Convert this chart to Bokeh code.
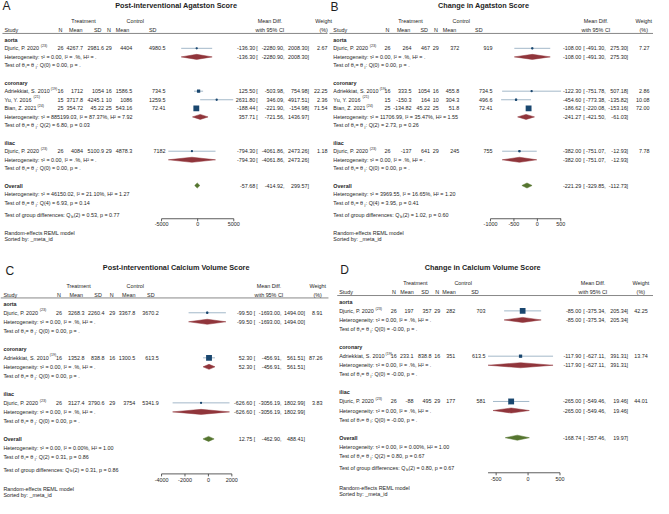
import math
from collections import defaultdict
from bokeh.plotting import figure
from bokeh.models import Range1d, ColumnDataSource
from bokeh.core.properties import value
from bokeh.embed import file_html
from bokeh.resources import INLINE

# ======================= DATA =======================
# ---- Panel A: Post-interventional Agatston Score ----
A_title = "Post-interventional Agatston Score"
A_groups = ["aorta", "coronary", "iliac"]
A_study_group = [0, 1, 1, 1, 2]
A_study = ["Djuric, P. 2020", "Adriekkiat, S. 2010", "Yu, Y. 2016", "Bian, Z. 2021", "Djuric, P. 2020"]
A_ref = ["(23)", "(19)", "(21)", "(24)", "(23)"]
A_n_t = [26, 16, 15, 25, 26]
A_mean_t = [4267.7, 1712, 3717.8, 354.72, 4084]
A_sd_t = [2981.6, 1054, 4245.1, 45.22, 5100.9]
A_n_c = [29, 16, 10, 25, 29]
A_mean_c = [4404, 1586.5, 1086, 543.16, 4878.3]
A_sd_c = [4980.5, 734.5, 1259.5, 72.41, 7182]
A_md = [-136.30, 125.50, 2631.80, -188.44, -794.30]
A_lo = [-2280.90, -503.98, 346.09, -221.90, -4061.86]
A_hi = [2008.30, 754.98, 4917.51, -154.98, 2473.26]
A_wt = [2.67, 22.25, 2.36, 71.54, 1.18]
A_grp_md = [-136.30, 357.71, -794.30]
A_grp_lo = [-2280.90, -721.56, -4061.86]
A_grp_hi = [2008.30, 1436.97, 2473.26]
A_grp_tau2 = ["0.00", "885199.03", "0.00"]
A_grp_I2 = [".%", "87.37%", ".%"]
A_grp_H2 = [".", "7.92", "."]
A_grp_Qdf = [0, 2, 0]
A_grp_Q = ["0.00", "6.80", "0.00"]
A_grp_p = [".", "0.03", "."]
A_all = [-57.68, -414.92, 299.57]
A_all_het = ["46150.02", "21.10%", "1.27"]
A_all_test = [4, "6.93", "0.14"]
A_gdiff = [2, "0.53", "0.77"]
A_ticks = [-5000, 0, 5000]

# ---- Panel B: Change in Agatston Score ----
B_title = "Change in Agatston Score"
B_groups = ["aorta", "coronary", "iliac"]
B_study_group = [0, 1, 1, 1, 2]
B_study = ["Djuric, P. 2020", "Adriekkiat, S. 2010", "Yu, Y. 2016", "Bian, Z. 2021", "Djuric, P. 2020"]
B_ref = ["(23)", "(19)", "(21)", "(24)", "(23)"]
B_n_t = [26, 16, 15, 25, 26]
B_mean_t = [264, 333.5, -150.3, -134.82, -137]
B_sd_t = [467, 1054, 164, 45.22, 641]
B_n_c = [29, 16, 10, 25, 29]
B_mean_c = [372, 455.8, 304.3, 51.8, 245]
B_sd_c = [919, 734.5, 496.6, 72.41, 755]
B_md = [-108.00, -122.30, -454.60, -186.62, -382.00]
B_lo = [-491.30, -751.78, -773.38, -220.08, -751.07]
B_hi = [275.30, 507.18, -135.82, -153.16, -12.93]
B_wt = [7.27, 2.86, 10.08, 72.00, 7.78]
B_grp_md = [-108.00, -241.27, -382.00]
B_grp_lo = [-491.30, -421.50, -751.07]
B_grp_hi = [275.30, -61.03, -12.93]
B_grp_tau2 = ["0.00", "11706.99", "0.00"]
B_grp_I2 = [".%", "35.47%", ".%"]
B_grp_H2 = [".", "1.55", "."]
B_grp_Qdf = [0, 2, 0]
B_grp_Q = ["0.00", "2.73", "0.00"]
B_grp_p = [".", "0.26", "."]
B_all = [-221.29, -329.85, -112.73]
B_all_het = ["3969.55", "16.65%", "1.20"]
B_all_test = [4, "3.95", "0.41"]
B_gdiff = [2, "1.02", "0.60"]
B_ticks = [-1000, -500, 0, 500]

# ---- Panel C: Post-interventional Calcium Volume Score ----
C_title = "Post-interventional Calcium Volume Score"
C_groups = ["aorta", "coronary", "iliac"]
C_study_group = [0, 1, 2]
C_study = ["Djuric, P. 2020", "Adriekkiat, S. 2010", "Djuric, P. 2020"]
C_ref = ["(23)", "(19)", "(23)"]
C_n_t = [26, 16, 26]
C_mean_t = [3268.3, 1352.8, 3127.4]
C_sd_t = [2260.4, 838.8, 3790.6]
C_n_c = [29, 16, 29]
C_mean_c = [3367.8, 1300.5, 3754]
C_sd_c = [3670.2, 613.5, 5341.9]
C_md = [-99.50, 52.30, -626.60]
C_lo = [-1693.00, -456.91, -3056.19]
C_hi = [1494.00, 561.51, 1802.99]
C_wt = [8.91, 87.26, 3.83]
C_grp_md = [-99.50, 52.30, -626.60]
C_grp_lo = [-1693.00, -456.91, -3056.19]
C_grp_hi = [1494.00, 561.51, 1802.99]
C_grp_tau2 = ["0.00", "0.00", "0.00"]
C_grp_I2 = [".%", ".%", ".%"]
C_grp_H2 = [".", ".", "."]
C_grp_Qdf = [0, 0, 0]
C_grp_Q = ["0.00", "0.00", "0.00"]
C_grp_p = [".", ".", "."]
C_all = [12.75, -462.90, 488.41]
C_all_het = ["0.00", "0.00%", "1.00"]
C_all_test = [2, "0.31", "0.86"]
C_gdiff = [2, "0.31", "0.86"]
C_ticks = [-4000, -2000, 0, 2000]

# ---- Panel D: Change in Calcium Volume Score ----
D_title = "Change in Calcium Volume Score"
D_groups = ["aorta", "coronary", "iliac"]
D_study_group = [0, 1, 2]
D_study = ["Djuric, P. 2020", "Adriekkiat, S. 2010", "Djuric, P. 2020"]
D_ref = ["(23)", "(19)", "(23)"]
D_n_t = [26, 16, 26]
D_mean_t = [197, 233.1, -88]
D_sd_t = [357, 838.8, 495]
D_n_c = [29, 16, 29]
D_mean_c = [282, 351, 177]
D_sd_c = [703, 613.5, 581]
D_md = [-85.00, -117.90, -265.00]
D_lo = [-375.34, -627.11, -549.46]
D_hi = [205.34, 391.31, 19.46]
D_wt = [42.25, 13.74, 44.01]
D_grp_md = [-85.00, -117.90, -265.00]
D_grp_lo = [-375.34, -627.11, -549.46]
D_grp_hi = [205.34, 391.31, 19.46]
D_grp_tau2 = ["0.00", "0.00", "0.00"]
D_grp_I2 = [".%", ".%", ".%"]
D_grp_H2 = [".", ".", "."]
D_grp_Qdf = [0, 0, 0]
D_grp_Q = ["-0.00", "-0.00", "-0.00"]
D_grp_p = [".", ".", "."]
D_all = [-168.74, -357.46, 19.97]
D_all_het = ["0.00", "0.00%", "1.00"]
D_all_test = [2, "0.80", "0.67"]
D_gdiff = [2, "0.80", "0.67"]
D_ticks = [-500, 0, 500]

FOOT1 = "Random-effects REML model"
FOOT2 = "Sorted by: _meta_id"

# ======================= STYLE / LAYOUT =======================
W, H = 653, 498
RW, RH = 669, 514
SX = W / RW
FONT = "Liberation Sans"
F_BODY = 5.4
F_TITLE = 7.3
F_LET = 12
F_SUP = 3.6
F_SUB = 3.9
TXT = "#1e1e1e"
NAVY = "#1a476f"
CI_COL = "#a3b8c9"
MAROON = "#90353b"
GREEN = "#55752f"
AXC = "#333333"

AW = {' ': 278, '!': 278, '%': 889, '(': 333, ')': 333, ',': 278, '-': 333, '.': 278, ':': 278,
      '=': 584, '_': 556, '[': 278, ']': 278, 'θ': 556, 'τ': 440, '²': 333}
for c in "0123456789":
    AW[c] = 556
AW.update(dict(A=667, B=667, C=722, D=722, E=667, F=611, G=778, H=722, I=278, J=500, K=667, L=556,
               M=833, N=722, O=778, P=667, Q=778, R=722, S=667, T=611, U=722, V=667, W=944, X=667,
               Y=667, Z=611))
AW.update(dict(a=556, b=556, c=500, d=556, e=556, f=278, g=556, h=556, i=222, j=222, k=500, l=222,
               m=833, n=556, o=556, p=556, q=556, r=333, s=500, t=278, u=556, v=500, w=722, x=500,
               y=500, z=500))


def tw(s, fs):
    return sum(AW.get(c, 556) for c in s) / 1000.0 * fs / SX


OFF_TOP = dict(gd=12.4, ax=16.6, lab=22.4, f1=31.8, f2=37.2)
OFF_BOT = dict(gd=13.0, ax=17.5, lab=23.5, f1=33.5, f2=39.0)

PANELS = {
    "A": dict(letter=(2, 5.5), title=(180, 5.5), h1=21, h2=30.2, line_y=34, line_x=(2, 335),
              y0=40.5, s=8.85, sx=4, off=OFF_TOP,
              col=dict(nt=61.5, mt=84.5, st=106, nc=111, mc=135, sc=169),
              hdr=dict(nt=61.5, mt=77, st=99.5, nc=111, mc=125, sc=156, treat=85, ctrl=138),
              mdx=276, wtx=331, est_r=261, br_l=262, lo_r=291, hi_r=316, wt_r=335,
              z0=202, k=37 / 5000),
    "B": dict(letter=(338, 6.5), title=(495, 5.5), h1=21, h2=30.2, line_y=34, line_x=(337, 669),
              y0=40.5, s=8.85, sx=341, off=OFF_TOP,
              col=dict(nt=396.5, mt=421, st=440, nc=446, mc=470, sc=504),
              hdr=dict(nt=396.5, mt=413, st=434, nc=446, mc=460, sc=490, treat=420, ctrl=472),
              mdx=610, wtx=659, est_r=595, br_l=597, lo_r=620, hi_r=643, wt_r=665,
              z0=550, k=24 / 500),
    "C": dict(letter=(5, 279), title=(180, 276), h1=295, h2=303.5, line_y=307, line_x=(0, 336),
              y0=313, s=9.3, sx=3, off=OFF_BOT,
              col=dict(nt=60, mt=86, st=106.5, nc=114.5, mc=138, sc=162),
              hdr=dict(nt=60, mt=77.5, st=100, nc=114, mc=131.5, sc=154, treat=80, ctrl=138),
              mdx=275, wtx=325, est_r=258, br_l=259.5, lo_r=288, hi_r=312, wt_r=330,
              z0=213, k=24 / 2000),
    "D": dict(letter=(348, 278), title=(494, 276), h1=292, h2=300.5, line_y=304.5, line_x=(345, 669),
              y0=311, s=9.35, sx=347, off=OFF_BOT,
              col=dict(nt=403, mt=423, st=441.5, nc=447.5, mc=466, sc=497),
              hdr=dict(nt=403, mt=416.5, st=435, nc=447.5, mc=459.5, sc=486, treat=425, ctrl=474),
              mdx=607, wtx=656, est_r=595, br_l=597, lo_r=620, hi_r=643, wt_r=663,
              z0=540.5, k=32.7 / 500),
}

# ======================= FIGURE =======================
p = figure(width=W, height=H, x_range=Range1d(0, RW), y_range=Range1d(RH, 0),
           output_backend="svg", toolbar_location=None, min_border=0,
           x_axis_location=None, y_axis_location=None)
p.grid.visible = False
p.outline_line_color = None
p.background_fill_color = "white"
p.border_fill_color = "white"

TX = defaultdict(lambda: dict(x=[], y=[], text=[]))


def put(x, y, s, fs=F_BODY, align="left", bold=False, color=TXT):
    d = TX[(fs, align, bold, color)]
    d["x"].append(x)
    d["y"].append(y)
    d["text"].append(s)


def fmt(v):
    return format(v, "g")


def test_line(x, y, df, q, pv):
    a = "Test of θ"
    put(x, y, a)
    x1 = x + tw(a, F_BODY)
    put(x1, y + 1.4, "i", fs=F_SUB)
    x2 = x1 + tw("i", F_SUB) + 0.2
    b = " = θ"
    put(x2, y, b)
    x3 = x2 + tw(b, F_BODY)
    put(x3, y + 1.4, "j", fs=F_SUB)
    x4 = x3 + tw("j", F_SUB) + 0.2
    put(x4, y, f": Q({df}) = {q}, p = {pv}")


def draw_panel(key, L):
    G = globals()
    g = lambda n: G[key + "_" + n]
    name = "f" + key
    k, z0 = L["k"], L["z0"]
    p.extra_x_ranges[name] = Range1d(start=(0 - z0) / k, end=(RW - z0) / k)
    y0, s, sx, off = L["y0"], L["s"], L["sx"], L["off"]
    col, hdr = L["col"], L["hdr"]

    put(L["letter"][0], L["letter"][1], key, fs=F_LET)
    put(L["title"][0], L["title"][1], g("title"), fs=F_TITLE, align="center", bold=True)
    put(hdr["treat"], L["h1"], "Treatment", align="center")
    put(hdr["ctrl"], L["h1"], "Control", align="center")
    put(L["mdx"], L["h1"], "Mean Diff.", align="center")
    put(L["wtx"], L["h1"], "Weight", align="center")
    put(sx, L["h2"], "Study")
    for c, t in (("nt", "N"), ("mt", "Mean"), ("st", "SD"), ("nc", "N"), ("mc", "Mean"), ("sc", "SD")):
        put(hdr[c], L["h2"], t, align="center")
    put(L["mdx"], L["h2"], "with 95% CI", align="center")
    put(L["wtx"], L["h2"], "(%)", align="center")
    p.segment(x0=[L["line_x"][0]], x1=[L["line_x"][1]], y0=[L["line_y"]], y1=[L["line_y"]],
              line_color="#555555", line_width=0.7)

    def ci_text(y, md, lo, hi, wt=None):
        put(L["est_r"], y, f"{md:.2f}", align="right")
        put(L["br_l"], y, "[")
        put(L["lo_r"], y, f"{lo:.2f},", align="right")
        put(L["hi_r"], y, f"{hi:.2f}]", align="right")
        if wt is not None:
            put(L["wt_r"], y, f"{wt:.2f}", align="right")

    study_y, grp_y = [], []
    r = 0
    groups = g("groups")
    sg = g("study_group")
    for gi, gname in enumerate(groups):
        put(sx, y0 + r * s, gname, bold=True)
        r += 1
        for si in [i for i in range(len(sg)) if sg[i] == gi]:
            y = y0 + r * s
            study_y.append(y)
            nm = g("study")[si]
            put(sx, y, nm)
            put(sx + tw(nm, F_BODY) + 1.0, y - 2.4, g("ref")[si], fs=F_SUP)
            put(col["nt"], y, str(g("n_t")[si]), align="center")
            put(col["mt"], y, fmt(g("mean_t")[si]), align="right")
            put(col["st"], y, fmt(g("sd_t")[si]), align="right")
            put(col["nc"], y, str(g("n_c")[si]), align="center")
            put(col["mc"], y, fmt(g("mean_c")[si]), align="right")
            put(col["sc"], y, fmt(g("sd_c")[si]), align="right")
            ci_text(y, g("md")[si], g("lo")[si], g("hi")[si], g("wt")[si])
            r += 1
        y = y0 + r * s
        grp_y.append(y)
        put(sx, y, f"Heterogeneity: τ² = {g('grp_tau2')[gi]}, I² = {g('grp_I2')[gi]}, H² = {g('grp_H2')[gi]}")
        ci_text(y, g("grp_md")[gi], g("grp_lo")[gi], g("grp_hi")[gi])
        r += 1
        test_line(sx, y0 + r * s, g("grp_Qdf")[gi], g("grp_Q")[gi], g("grp_p")[gi])
        r += 2
    yo = y0 + r * s
    put(sx, yo, "Overall", bold=True)
    allv = g("all")
    ci_text(yo, allv[0], allv[1], allv[2])
    r += 1
    het = g("all_het")
    put(sx, y0 + r * s, f"Heterogeneity: τ² = {het[0]}, I² = {het[1]}, H² = {het[2]}")
    r += 1
    yt = y0 + r * s
    tt = g("all_test")
    test_line(sx, yt, tt[0], tt[1], tt[2])
    gd = g("gdiff")
    yg = yt + off["gd"]
    a = "Test of group differences: Q"
    put(sx, yg, a)
    x1 = sx + tw(a, F_BODY)
    put(x1, yg + 1.4, "b", fs=F_SUB)
    put(x1 + tw("b", F_SUB) + 0.2, yg, f"({gd[0]}) = {gd[1]}, p = {gd[2]}")
    put(sx, yt + off["f1"], FOOT1)
    put(sx, yt + off["f2"], FOOT2)

    # ---- forest marks (data coordinates through the panel's x-range) ----
    md, lo, hi, wt = g("md"), g("lo"), g("hi"), g("wt")
    wmax = max(wt)
    src = ColumnDataSource(dict(md=md, lo=lo, hi=hi, y=study_y,
                                size=[6.0 * math.sqrt(w / wmax) * SX for w in wt]))
    p.segment(x0="lo", x1="hi", y0="y", y1="y", source=src, x_range_name=name,
              line_color=CI_COL, line_width=1.0)
    p.scatter(x="md", y="y", size="size", marker="square", source=src, x_range_name=name,
              fill_color=NAVY, line_color=None)
    p.scatter(x="md", y="y", size=2.3, marker="circle", source=src, x_range_name=name,
              fill_color=NAVY, line_color=None)
    hh = 2.6
    gm, gl, gh = g("grp_md"), g("grp_lo"), g("grp_hi")
    p.patches(xs=[[gl[i], gm[i], gh[i], gm[i]] for i in range(len(gm))],
              ys=[[grp_y[i], grp_y[i] - hh, grp_y[i], grp_y[i] + hh] for i in range(len(gm))],
              x_range_name=name, fill_color=MAROON, line_color=MAROON, line_width=0.5)
    p.patches(xs=[[allv[1], allv[0], allv[2], allv[0]]], ys=[[yo, yo - hh, yo, yo + hh]],
              x_range_name=name, fill_color=GREEN, line_color=GREEN, line_width=0.5)

    # ---- x axis ----
    ticks = g("ticks")
    ya = yt + off["ax"]
    amin = min(min(ticks), min(lo), min(gl), allv[1])
    amax = max(max(ticks), max(hi), max(gh), allv[2])
    p.segment(x0=[amin], x1=[amax], y0=[ya], y1=[ya], x_range_name=name,
              line_color=AXC, line_width=0.8)
    p.segment(x0=ticks, x1=ticks, y0=[ya] * len(ticks), y1=[ya + 2.6] * len(ticks),
              x_range_name=name, line_color=AXC, line_width=0.8)
    p.text(x=ticks, y=[yt + off["lab"]] * len(ticks), text=[str(t) for t in ticks], x_range_name=name,
           text_font=value(FONT), text_font_size=value(f"{F_BODY}px"), text_align="center",
           text_baseline="middle", text_color=TXT)


for key, L in PANELS.items():
    draw_panel(key, L)

for (fs, align, bold, color), d in TX.items():
    p.text(x="x", y="y", text="text", source=ColumnDataSource(d),
           text_font=value(FONT), text_font_size=value(f"{fs}px"),
           text_font_style="bold" if bold else "normal",
           text_align=align, text_baseline="middle", text_color=color)

open("out.html", "w").write(file_html(p, INLINE))
